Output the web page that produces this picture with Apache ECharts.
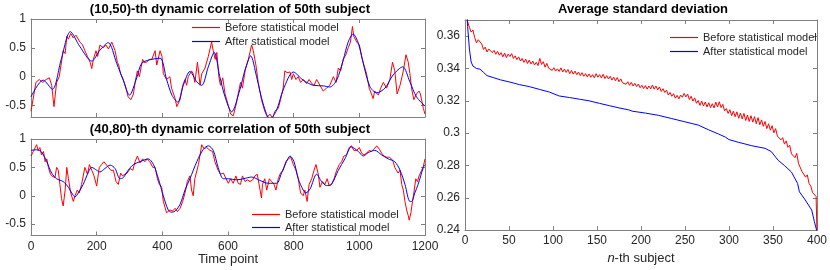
<!DOCTYPE html>
<html><head><meta charset="utf-8">
<script src="https://cdn.jsdelivr.net/npm/echarts@6/dist/echarts.min.js"></script>
<style>html,body{margin:0;padding:0;background:#fff}#c{width:830px;height:270px}</style>
</head><body><div id="c"></div>
<script>
// ---- data ----
const seriesNames = ['Before statistical model', 'After statistical model'];
const titles = ['(10,50)-th dynamic correlation of 50th subject', '(40,80)-th dynamic correlation of 50th subject', 'Average standard deviation'];
const corrTicks = [-0.5, 0, 0.5, 1];
const stdTicks = [0.24, 0.26, 0.28, 0.3, 0.32, 0.34, 0.36];

// top panel: [time point, correlation]
const topRed = [[0,-0.6],[15,-0.1],[25,-0.05],[36,-0.1],[46,-0.05],[56,-0.02],[63,-0.15],[70,-0.52],[78,-0.1],[86,0.0],[98,0.45],[104,0.4],[109,0.7],[114,0.65],[121,0.75],[129,0.67],[137,0.72],[149,0.6],[157,0.55],[164,0.45],[172,0.35],[180,0.25],[185,0.14],[190,0.3],[198,0.45],[203,0.35],[210,0.55],[220,0.5],[228,0.55],[236,0.48],[246,0.6],[256,0.45],[263,0.25],[267,0.2],[273,0.05],[281,-0.05],[289,-0.2],[296,-0.35],[304,-0.4],[312,-0.3],[317,-0.1],[324,0.1],[330,0.0],[340,0.3],[344,0.25],[352,0.25],[360,0.3],[368,0.3],[378,0.45],[383,0.2],[393,0.45],[399,0.35],[403,0.05],[413,-0.05],[423,0.0],[428,-0.2],[439,-0.38],[444,-0.52],[454,-0.4],[462,-0.15],[469,-0.05],[474,-0.15],[479,0.0],[489,0.1],[494,0.05],[499,-0.1],[507,0.25],[515,-0.15],[520,0.05],[530,0.15],[540,0.35],[550,0.6],[555,0.45],[561,0.3],[566,0.42],[572,0.0],[577,-0.15],[584,-0.02],[591,-0.3],[601,-0.5],[608,-0.65],[616,-0.68],[624,-0.5],[631,-0.3],[638,-0.1],[644,-0.2],[652,0.1],[662,0.3],[672,0.55],[677,0.45],[685,0.2],[692,-0.1],[702,-0.4],[712,-0.6],[720,-0.7],[728,-0.65],[736,-0.72],[743,-0.6],[753,-0.55],[760,-0.4],[768,-0.2],[773,0.1],[780,0.07],[789,0.08],[794,-0.05],[799,0.05],[807,-0.05],[814,0.0],[821,-0.1],[829,-0.05],[839,-0.12],[847,-0.05],[855,-0.12],[862,-0.15],[870,-0.05],[880,-0.15],[890,-0.25],[900,-0.2],[910,-0.15],[921,0.0],[929,-0.1],[936,0.15],[943,0.1],[951,0.3],[959,0.38],[966,0.5],[973,0.6],[979,0.87],[983,0.7],[992,0.6],[1000,0.55],[1007,0.35],[1014,0.2],[1022,0.05],[1030,-0.2],[1037,-0.3],[1042,-0.38],[1047,-0.25],[1058,-0.32],[1065,-0.2],[1073,-0.1],[1083,-0.2],[1093,-0.05],[1101,0.25],[1108,0.1],[1115,-0.3],[1124,-0.15],[1134,0.1],[1142,0.38],[1149,0.25],[1154,0.05],[1159,-0.2],[1166,-0.4],[1174,-0.3],[1182,-0.25],[1186,-0.3],[1195,-0.55],[1200,-0.65]];
const topBlue = [[0,-0.35],[37,-0.06],[65,-0.22],[92,0.3],[120,0.78],[149,0.52],[185,0.27],[210,0.46],[235,0.59],[261,0.23],[281,-0.06],[300,-0.32],[322,-0.02],[337,0.23],[360,0.29],[393,0.32],[413,-0.05],[430,-0.33],[447,-0.44],[464,-0.15],[484,0.09],[505,-0.09],[520,-0.15],[540,0.17],[558,0.42],[575,0.0],[591,-0.35],[611,-0.61],[636,-0.23],[652,0.12],[669,0.36],[687,0.0],[707,-0.47],[728,-0.74],[748,-0.58],[768,-0.23],[799,0.08],[829,-0.06],[860,-0.15],[890,-0.16],[910,-0.18],[931,-0.06],[951,0.29],[966,0.6],[981,0.74],[997,0.58],[1012,0.23],[1032,-0.17],[1053,-0.28],[1078,-0.2],[1103,0.03],[1132,0.17],[1154,-0.09],[1174,-0.35],[1200,-0.51]];

// bottom panel: [time point, correlation]
const botRed = [[0,0.7],[7,0.78],[12,0.75],[17,0.9],[22,0.8],[27,0.85],[32,0.72],[38,0.78],[43,0.6],[48,0.65],[53,0.5],[58,0.4],[63,0.35],[68,0.36],[73,0.32],[78,0.5],[83,0.45],[88,0.2],[93,-0.05],[98,-0.18],[104,0.1],[109,0.5],[114,0.3],[121,0.05],[129,-0.1],[134,0.0],[141,0.1],[147,0.05],[154,0.2],[164,0.5],[172,0.38],[178,0.55],[185,0.45],[192,0.35],[200,0.17],[208,0.5],[215,0.55],[222,0.6],[228,0.62],[236,0.5],[243,0.45],[251,0.45],[259,0.25],[266,0.2],[273,0.4],[279,0.35],[286,0.38],[293,0.4],[302,0.48],[310,0.45],[317,0.6],[324,0.7],[332,0.58],[340,0.65],[347,0.6],[354,0.65],[362,0.6],[371,0.5],[378,0.5],[385,0.3],[391,0.2],[398,0.15],[403,-0.1],[408,-0.2],[413,-0.3],[423,-0.25],[431,-0.27],[439,-0.22],[446,-0.28],[454,-0.22],[462,-0.1],[469,0.05],[476,0.25],[484,0.35],[489,0.1],[494,0.0],[499,0.3],[510,0.55],[520,0.9],[527,0.83],[535,0.85],[545,0.8],[553,0.78],[560,0.6],[570,0.45],[577,0.38],[586,0.4],[594,0.3],[601,0.22],[608,0.3],[616,0.22],[624,0.35],[631,0.22],[638,0.2],[644,0.35],[652,0.25],[659,0.28],[667,0.25],[675,0.28],[682,0.35],[689,0.38],[695,0.4],[702,-0.04],[705,0.2],[712,0.3],[718,0.1],[726,0.3],[733,0.25],[740,0.2],[746,0.1],[753,0.3],[760,0.4],[768,0.45],[776,0.6],[784,0.65],[791,0.68],[799,0.55],[807,0.45],[814,0.3],[821,0.05],[829,0.0],[834,0.1],[841,-0.1],[847,0.2],[855,0.3],[862,0.45],[868,0.55],[875,0.38],[880,0.15],[888,0.25],[895,0.2],[902,0.3],[908,0.18],[915,0.2],[923,0.3],[931,0.45],[939,0.55],[946,0.6],[953,0.7],[961,0.72],[969,0.85],[976,0.88],[983,0.8],[992,0.8],[1000,0.85],[1007,0.75],[1014,0.72],[1022,0.75],[1030,0.8],[1037,0.78],[1044,0.82],[1053,0.88],[1061,0.82],[1068,0.75],[1075,0.7],[1083,0.68],[1091,0.68],[1098,0.65],[1103,0.6],[1108,0.5],[1113,0.45],[1118,0.4],[1124,0.45],[1129,0.2],[1134,0.1],[1139,-0.1],[1144,-0.25],[1149,-0.35],[1152,-0.43],[1157,-0.3],[1162,-0.1],[1166,0.05],[1172,0.3],[1177,0.25],[1182,0.35],[1190,0.45],[1195,0.52],[1200,0.65]];
const botBlue = [[0,0.8],[17,0.81],[32,0.77],[48,0.6],[63,0.4],[78,0.3],[98,0.25],[114,0.15],[124,0.05],[134,-0.02],[144,0.05],[159,0.2],[175,0.42],[185,0.5],[200,0.45],[210,0.42],[225,0.48],[241,0.54],[256,0.48],[271,0.3],[281,0.32],[296,0.45],[312,0.55],[332,0.6],[357,0.65],[373,0.55],[388,0.3],[403,0.0],[418,-0.25],[428,-0.29],[439,-0.27],[454,-0.15],[469,0.1],[484,0.3],[505,0.6],[525,0.82],[540,0.88],[555,0.8],[570,0.5],[586,0.3],[601,0.3],[626,0.28],[647,0.3],[672,0.33],[697,0.27],[723,0.22],[748,0.22],[763,0.4],[778,0.6],[789,0.7],[801,0.6],[814,0.3],[829,0.1],[837,0.05],[850,0.12],[870,0.38],[885,0.25],[900,0.18],[915,0.2],[936,0.45],[956,0.65],[976,0.86],[997,0.78],[1012,0.7],[1027,0.76],[1047,0.8],[1068,0.72],[1088,0.65],[1108,0.6],[1124,0.45],[1139,0.2],[1154,-0.1],[1159,-0.1],[1169,0.05],[1179,0.2],[1195,0.5],[1200,0.55]];

// right panel: [n-th subject, average std]
const stdRed = [[1,0.376],[3,0.369],[5,0.3655],[7,0.3625],[9,0.3638],[11,0.3592],[13,0.3558],[15,0.3578],[17,0.3586],[19,0.3552],[21,0.3518],[23,0.3532],[25,0.3502],[27,0.3521],[29,0.3528],[31,0.3498],[33,0.3512],[35,0.3488],[37,0.3506],[39,0.3482],[41,0.3498],[43,0.3472],[45,0.3496],[47,0.3468],[49,0.3489],[51,0.3474],[53,0.3492],[55,0.3462],[57,0.3478],[59,0.3455],[61,0.3472],[63,0.3446],[65,0.3462],[67,0.3438],[69,0.3458],[71,0.3431],[73,0.3452],[75,0.3428],[77,0.3446],[79,0.3422],[81,0.3438],[83,0.3418],[85,0.3462],[87,0.3425],[89,0.3442],[91,0.3408],[93,0.3432],[95,0.3402],[97,0.3412],[99,0.3388],[101,0.3405],[103,0.3384],[105,0.3398],[107,0.3382],[109,0.3404],[111,0.3378],[113,0.3396],[115,0.3376],[117,0.3394],[119,0.3368],[121,0.3388],[123,0.3365],[125,0.3384],[127,0.3362],[129,0.3378],[131,0.3356],[133,0.3374],[135,0.3352],[137,0.3368],[139,0.3348],[141,0.3366],[143,0.3346],[145,0.3362],[147,0.3342],[149,0.3368],[151,0.3346],[153,0.3362],[155,0.3342],[157,0.3364],[159,0.3338],[161,0.3356],[163,0.3335],[165,0.3352],[167,0.3328],[169,0.3346],[171,0.3324],[173,0.3344],[175,0.3318],[177,0.3336],[179,0.3312],[181,0.3322],[183,0.3302],[185,0.3318],[187,0.3296],[189,0.3314],[191,0.3292],[193,0.3308],[195,0.3288],[197,0.3304],[199,0.3281],[201,0.3296],[203,0.3276],[205,0.3294],[207,0.3272],[209,0.3292],[211,0.3274],[213,0.3298],[215,0.3272],[217,0.3292],[219,0.3268],[221,0.3286],[223,0.3258],[225,0.3275],[227,0.3252],[229,0.3266],[231,0.3236],[233,0.3252],[235,0.3228],[237,0.3244],[239,0.3216],[241,0.3234],[243,0.3212],[245,0.3236],[247,0.3222],[249,0.3246],[251,0.3224],[253,0.3242],[255,0.3208],[257,0.3228],[259,0.3198],[261,0.3218],[263,0.3185],[265,0.3202],[267,0.3172],[269,0.3198],[271,0.3168],[273,0.3192],[275,0.3162],[277,0.3188],[279,0.3158],[281,0.3182],[283,0.3156],[285,0.3192],[287,0.3162],[289,0.3194],[291,0.3158],[293,0.3178],[295,0.3138],[297,0.3152],[299,0.3122],[301,0.3145],[303,0.3108],[305,0.3136],[307,0.3102],[309,0.3132],[311,0.3092],[313,0.3124],[315,0.3088],[317,0.3122],[319,0.3078],[321,0.3112],[323,0.3072],[325,0.3108],[327,0.3068],[329,0.3102],[331,0.3058],[333,0.3096],[335,0.3052],[337,0.3082],[339,0.3042],[341,0.3072],[343,0.3028],[345,0.3058],[347,0.3018],[349,0.3046],[351,0.3002],[353,0.3028],[355,0.2982],[357,0.2992],[359,0.2958],[361,0.2972],[363,0.2932],[365,0.2952],[367,0.2912],[369,0.2925],[371,0.2872],[373,0.2882],[375,0.2848],[377,0.2875],[379,0.2812],[381,0.2822],[383,0.2762],[385,0.2768],[387,0.2728],[389,0.2742],[391,0.2688],[393,0.2672],[395,0.2632],[397,0.2622],[399,0.2608],[400,0.238]];
const stdBlue = [[1,0.385],[3,0.366],[5,0.352],[7,0.344],[9,0.3415],[13,0.340],[17,0.3396],[21,0.3376],[25,0.3356],[32,0.3344],[40,0.333],[51,0.3316],[62,0.330],[73,0.3288],[85,0.327],[96,0.3254],[107,0.323],[119,0.322],[130,0.321],[141,0.320],[153,0.3184],[164,0.317],[175,0.3156],[186,0.3144],[190,0.3136],[205,0.3124],[220,0.311],[235,0.309],[250,0.307],[265,0.305],[277,0.302],[288,0.2995],[296,0.2975],[300,0.296],[311,0.2943],[326,0.2922],[341,0.2906],[348,0.2886],[356,0.2831],[363,0.28],[371,0.2759],[378,0.2688],[380,0.2637],[386,0.2592],[394,0.2524],[397,0.2453],[400,0.239]];

// ---- chart ----
const FONT = 'Liberation Sans, Arial, Helvetica, sans-serif';
const AX = '#808080';
const TXT = '#262626';
const RED = '#ff0000', BLUE = '#0000ff';
const fmt = v => String(Math.round(v * 100) / 100);

function xAx(grid, min, max, interval, pos, labels, name) {
  return {
    type: 'value', gridIndex: grid, min, max, interval, position: pos,
    axisLine: { show: true, onZero: false, lineStyle: { color: AX, width: 1 } },
    axisTick: { show: true, inside: true, length: 4, lineStyle: { color: AX } },
    axisLabel: { show: labels, margin: 5, fontSize: 12, color: TXT, fontFamily: FONT, formatter: v => String(v) },
    splitLine: { show: false },
    name: name || '', nameLocation: 'middle', nameGap: 16,
    nameTextStyle: { fontSize: 13, color: TXT, fontFamily: FONT, rich: { i: { fontStyle: 'italic', fontSize: 13, color: TXT, fontFamily: FONT } } }
  };
}
function yAx(grid, min, max, ticks, pos, labels, margin) {
  return {
    type: 'value', gridIndex: grid, min, max, position: pos,
    axisLine: { show: true, onZero: false, lineStyle: { color: AX, width: 1 } },
    axisTick: { show: true, inside: true, length: 4, lineStyle: { color: AX }, customValues: ticks },
    axisLabel: { show: labels, margin: margin, fontSize: 12, color: TXT, fontFamily: FONT, customValues: ticks, formatter: fmt },
    splitLine: { show: false }
  };
}
function line(name, data, color, xi, yi, smooth) {
  return {
    type: 'line', name, data, xAxisIndex: xi, yAxisIndex: yi, symbol: 'none', showSymbol: false,
    smooth: smooth || false, clip: true,
    lineStyle: { color, width: 1 }, itemStyle: { color }, emphasis: { disabled: true }
  };
}
function legend(left, top, gap) {
  return {
    left, top, orient: 'vertical', padding: 0, itemWidth: 28, itemHeight: 1.2, itemGap: gap,
    icon: 'rect',
    textStyle: { fontSize: 11, color: TXT, fontFamily: FONT, lineHeight: 13 }, data: seriesNames, selectedMode: false
  };
}
function title(text, x, y) {
  return { text, left: x, top: y, padding: 0, textAlign: 'center',
    textStyle: { fontSize: 13, fontWeight: 'bold', color: '#000', fontFamily: FONT } };
}

const chart = echarts.init(document.getElementById('c'), null, { renderer: 'canvas' });
chart.setOption({
  animation: false,
  backgroundColor: '#fff',
  title: [title(titles[0], 230, 3), title(titles[1], 230, 123), title(titles[2], 643, 3)],
  legend: [legend(192, 21, 1), legend(252, 208, 0), legend(670, 31, 1)],
  grid: [
    { left: 31, top: 19, width: 394, height: 98 },
    { left: 31, top: 139, width: 394, height: 96.5 },
    { left: 465, top: 20, width: 354, height: 217 }
  ],
  xAxis: [
    xAx(0, 0, 1200, 200, 'bottom', false),
    xAx(0, 0, 1200, 200, 'top', false),
    xAx(1, 0, 1200, 200, 'bottom', true, 'Time point'),
    xAx(1, 0, 1200, 200, 'top', false),
    xAx(2, 0, 400, 50, 'bottom', true, '{i|n}-th subject'),
    xAx(2, 0, 400, 50, 'top', false)
  ],
  yAxis: [
    yAx(0, -0.7, 1, corrTicks, 'left', true, 5),
    yAx(0, -0.7, 1, corrTicks, 'right', false, 5),
    yAx(1, -0.7, 1, corrTicks, 'left', true, 5),
    yAx(1, -0.7, 1, corrTicks, 'right', false, 5),
    yAx(2, 0.24, 0.37, stdTicks, 'left', true, 5),
    yAx(2, 0.24, 0.37, stdTicks, 'right', false, 5)
  ],
  series: [
    line(seriesNames[0], topRed, RED, 0, 0),
    line(seriesNames[1], topBlue, BLUE, 0, 0, 0.3),
    line(seriesNames[0], botRed, RED, 2, 2),
    line(seriesNames[1], botBlue, BLUE, 2, 2, 0.3),
    line(seriesNames[0], stdRed, RED, 4, 4),
    line(seriesNames[1], stdBlue, BLUE, 4, 4)
  ]
});
</script></body></html>
